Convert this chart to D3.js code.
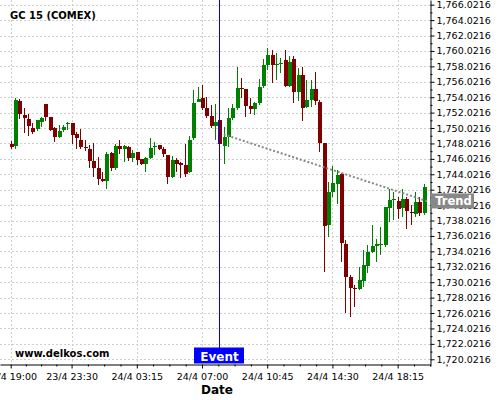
<!DOCTYPE html>
<html>
<head>
<meta charset="utf-8">
<script src="https://cdn.jsdelivr.net/npm/d3@7"></script>
<style>
  body { margin: 0; background: #fff; }
  svg { display: block; font-family: "DejaVu Sans", sans-serif; }
</style>
</head>
<body>
<svg id="chart" width="500" height="400"></svg>
<script>
// 15 min candles, index based x axis
var opens = [1747.95,1747.73,1753.53,1751.71,1751.19,1750.03,1749.90,1750.85,1753.14,1751.46,
  1750.03,1748.90,1749.81,1750.59,1750.68,1749.21,1748.47,1747.56,1747.30,1745.79,
  1744.80,1743.45,1743.19,1746.75,1744.88,1747.73,1747.26,1747.60,1746.10,1746.88,
  1745.97,1745.36,1746.18,1747.60,1747.82,1747.30,1746.53,1743.71,1745.88,1745.45,
  1745.23,1744.28,1748.77,1753.44,1753.96,1752.58,1751.62,1750.33,1751.07,1747.69,
  1748.82,1751.29,1752.58,1755.18,1755.05,1752.88,1752.45,1753.31,1755.51,1758.20,
  1759.50,1758.16,1758.33,1758.85,1755.48,1758.94,1754.74,1756.90,1752.79,1753.66,
  1755.05,1753.44,1748.04,1737.45,1741.69,1742.76,1744.06,1734.98,1730.74,1729.32,
  1729.19,1730.23,1732.17,1733.98,1734.76,1734.81,1734.85,1739.69,1740.69,1740.56,
  1739.61,1740.82,1739.17,1738.83,1740.39,1738.96];
var highs = [1748.38,1753.88,1753.75,1752.58,1751.80,1750.64,1751.07,1751.42,1753.14,1751.46,
  1750.12,1750.46,1750.38,1750.77,1750.68,1749.51,1749.94,1748.43,1747.82,1748.04,
  1746.31,1744.36,1746.92,1746.96,1747.91,1748.43,1747.82,1747.69,1747.17,1746.96,
  1746.01,1746.31,1748.77,1748.25,1747.82,1747.60,1746.53,1746.40,1746.10,1745.58,
  1747.91,1749.03,1754.96,1755.39,1755.61,1754.09,1753.01,1753.10,1752.58,1750.20,
  1752.58,1753.14,1757.98,1756.47,1755.05,1753.88,1753.44,1756.35,1758.94,1760.37,
  1760.15,1759.72,1759.07,1760.15,1759.37,1759.37,1757.77,1757.98,1756.26,1756.26,
  1757.29,1753.66,1748.08,1743.06,1745.10,1744.58,1744.15,1735.50,1730.96,1729.67,
  1732.04,1734.20,1734.85,1737.45,1735.59,1737.15,1739.82,1742.08,1741.77,1741.04,
  1742.08,1741.12,1740.04,1741.69,1741.04,1742.73];
var lows = [1747.26,1747.26,1751.16,1749.34,1749.03,1749.25,1749.60,1750.12,1750.98,1749.64,
  1748.17,1748.69,1749.51,1749.77,1747.95,1747.26,1747.26,1747.04,1744.80,1743.63,
  1742.60,1743.06,1742.16,1744.45,1744.58,1746.62,1745.66,1745.75,1745.58,1745.23,
  1745.19,1744.28,1746.01,1746.53,1747.17,1746.31,1742.72,1743.58,1744.28,1743.58,
  1743.71,1744.15,1748.47,1753.36,1752.36,1751.29,1749.99,1748.47,1747.82,1745.36,
  1747.60,1751.07,1752.36,1753.88,1751.42,1751.85,1751.71,1753.01,1755.18,1757.55,
  1755.83,1756.26,1757.12,1755.39,1755.39,1753.23,1753.57,1750.94,1752.66,1752.79,
  1753.01,1746.96,1731.39,1735.85,1741.12,1740.13,1732.69,1726.07,1725.47,1726.77,
  1729.01,1729.37,1731.18,1733.78,1732.61,1733.56,1734.63,1737.80,1738.10,1738.19,
  1738.53,1736.89,1737.45,1738.45,1738.65,1738.74];
var closes = [1747.60,1753.66,1751.84,1751.32,1750.33,1749.51,1751.07,1751.33,1751.46,1749.81,
  1748.90,1749.64,1750.16,1750.68,1749.16,1748.77,1747.60,1747.43,1745.79,1744.88,
  1743.45,1743.19,1746.70,1744.88,1747.73,1747.26,1747.69,1746.18,1746.75,1745.88,
  1745.36,1746.10,1747.39,1747.69,1747.30,1746.66,1743.71,1745.88,1745.36,1745.23,
  1744.06,1748.47,1753.31,1753.79,1752.58,1751.62,1750.33,1750.85,1747.91,1748.82,
  1751.29,1752.58,1755.18,1755.05,1752.88,1752.45,1753.23,1755.39,1758.20,1759.50,
  1758.20,1758.33,1758.50,1755.48,1758.59,1754.74,1756.90,1752.66,1753.66,1755.05,
  1753.53,1748.04,1737.32,1741.69,1742.86,1743.93,1735.07,1730.74,1729.32,1729.11,
  1730.31,1732.26,1733.98,1734.72,1734.94,1734.94,1739.74,1740.69,1740.82,1739.52,
  1740.82,1739.30,1738.96,1740.47,1739.04,1742.42];

var xTickIdx = [0, 14, 29, 44, 59, 74, 89];
var xTickLabels = ["23/4 19:00", "23/4 23:30", "24/4 03:15", "24/4 07:00", "24/4 10:45", "24/4 14:30", "24/4 18:15"];
var yTicks = d3.range(1720.0216, 1766.03, 2);

var eventIdx = 48;
var trendIdx = [49, 96];
var trendPrice = [1749.2, 1740.5];

var svg = d3.select("#chart");
var width = 430, height = 364;
var fontSize = "9.5px";

var x = d3.scaleLinear().domain([-2.46, 96.44]).range([0, width]);
var y = d3.scaleLinear().domain([1719.41, 1766.63]).range([height, 0]);

var candles = opens.map(function(o, i) {
    return {i: i, o: o, h: highs[i], l: lows[i], c: closes[i]};
});

// minor ticks, 4 per major interval
var xMinor = [];
for (var k = 0; k < xTickIdx.length; k++) {
    var a = xTickIdx[k];
    var b = k < xTickIdx.length - 1 ? xTickIdx[k + 1] : a + 15;
    for (var m = 1; m < 4; m++) xMinor.push(a + (b - a) * m / 4);
}
xMinor.push(89 + 7.5);
var yMinor = yTicks.map(function(d) { return d + 1; }).filter(function(d) { return d < 1766.6; });

//grid
var grid = svg.append("g").attr("class", "grid");
grid.selectAll(".hg")
    .data(yTicks)
    .enter()
    .append("line")
    .attr("x1", 0).attr("x2", width)
    .attr("y1", function(d) { return Math.round(y(d)) + 0.5; })
    .attr("y2", function(d) { return Math.round(y(d)) + 0.5; })
    .style("stroke", "#cfcfcf")
    .style("stroke-dasharray", "2,2");
grid.selectAll(".vg")
    .data(xTickIdx)
    .enter()
    .append("line")
    .attr("y1", 0).attr("y2", height)
    .attr("x1", function(d) { return Math.round(x(d)) + 0.5; })
    .attr("x2", function(d) { return Math.round(x(d)) + 0.5; })
    .style("stroke", "#cfcfcf")
    .style("stroke-dasharray", "2,2");

// candles
var cg = svg.append("g")
    .selectAll(".candle")
    .data(candles)
    .enter()
    .append("g")
    .attr("class", "candle");

function col(d) { return d.c >= d.o ? "#008000" : "#800000"; }

cg.append("line")
    .attr("x1", function(d) { return Math.round(x(d.i)) + 0.5; })
    .attr("x2", function(d) { return Math.round(x(d.i)) + 0.5; })
    .attr("y1", function(d) { return y(d.h); })
    .attr("y2", function(d) { return y(d.l); })
    .style("stroke", col)
    .style("stroke-width", 1)
    .style("shape-rendering", "crispEdges");

cg.append("rect")
    .attr("x", function(d) { return Math.round(x(d.i)) - 1.5; })
    .attr("width", 4)
    .attr("y", function(d) { return y(Math.max(d.o, d.c)); })
    .attr("height", function(d) { return Math.max(1, Math.abs(y(d.o) - y(d.c))); })
    .style("fill", col)
    .style("shape-rendering", "crispEdges");

// trend line
svg.append("line")
    .attr("x1", x(trendIdx[0])).attr("y1", y(trendPrice[0]))
    .attr("x2", x(trendIdx[1])).attr("y2", y(trendPrice[1]))
    .style("stroke", "#888")
    .style("stroke-width", 2)
    .style("stroke-dasharray", "2,2");

// event line
var ex = Math.round(x(eventIdx)) + 0.5;
svg.append("line")
    .attr("x1", ex).attr("x2", ex)
    .attr("y1", 0).attr("y2", 348)
    .style("stroke", "#0000ff")
    .style("stroke-width", 1);

// axes
var yAxis = d3.axisRight(y)
    .tickValues(yTicks)
    .tickFormat(d3.format(",.4f"))
    .tickSize(4)
    .tickSizeOuter(0)
    .tickPadding(2);
var yA = svg.append("g")
    .attr("transform", "translate(" + (width + 0.5) + ",0)")
    .call(yAxis);
svg.append("g")
    .attr("transform", "translate(" + (width + 0.5) + ",0)")
    .call(d3.axisRight(y).tickValues(yMinor).tickSize(2).tickSizeOuter(0).tickFormat(""))
    .select(".domain").remove();

var xAxis = d3.axisBottom(x)
    .tickValues(xTickIdx)
    .tickFormat(function(d, i) { return xTickLabels[i]; })
    .tickSize(4)
    .tickSizeOuter(0)
    .tickPadding(4.5);
var xA = svg.append("g")
    .attr("transform", "translate(0," + (height + 0.5) + ")")
    .call(xAxis);
svg.append("g")
    .attr("transform", "translate(0," + (height + 0.5) + ")")
    .call(d3.axisBottom(x).tickValues(xMinor).tickSize(2).tickSizeOuter(0).tickFormat(""))
    .select(".domain").remove();

svg.selectAll(".tick text")
    .style("font-family", "DejaVu Sans")
    .style("font-size", fontSize)
    .style("fill", "#000");
svg.selectAll(".domain, .tick line").style("stroke", "#000");

// labels
svg.append("text")
    .attr("x", 10).attr("y", 19)
    .style("font-size", "10px")
    .style("font-weight", "bold")
    .text("GC 15 (COMEX)");

svg.append("text")
    .attr("x", 15).attr("y", 357)
    .style("font-size", "10px")
    .style("font-weight", "bold")
    .text("www.delkos.com");

svg.append("text")
    .attr("x", 217).attr("y", 393.5)
    .attr("text-anchor", "middle")
    .style("font-size", "12px")
    .style("font-weight", "bold")
    .text("Date");

// event label
svg.append("rect")
    .attr("x", ex - 25.5).attr("y", 347.5)
    .attr("width", 50).attr("height", 16)
    .style("fill", "#0000ff");
svg.append("text")
    .attr("x", ex).attr("y", 360.5)
    .attr("text-anchor", "middle")
    .style("font-size", "12px")
    .style("font-weight", "bold")
    .style("fill", "#fff")
    .text("Event");

// trend label
var ty = y(trendPrice[1]);
svg.append("rect")
    .attr("x", 431).attr("y", ty - 8)
    .attr("width", 43).attr("height", 15)
    .style("fill", "#888");
svg.append("text")
    .attr("x", 453.5).attr("y", ty + 4)
    .attr("text-anchor", "middle")
    .style("font-size", "11.5px")
    .style("font-weight", "bold")
    .style("fill", "#fff")
    .text("Trend");
</script>
</body>
</html>
